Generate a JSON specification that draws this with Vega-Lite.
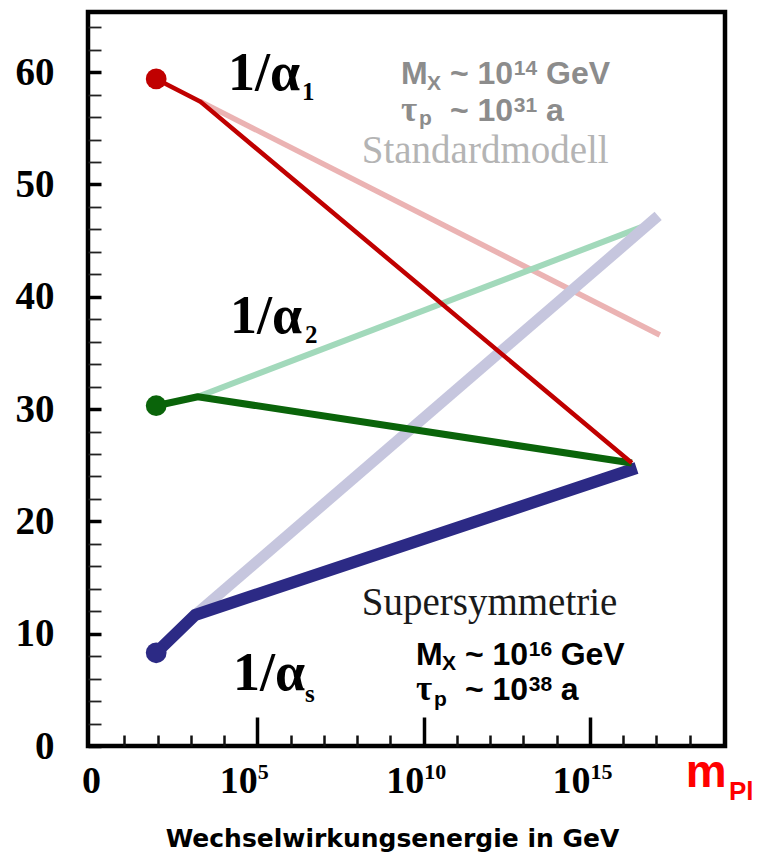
{
  "$schema": "https://vega.github.io/schema/vega-lite/v6.json",
  "width": 637,
  "height": 734,
  "autosize": {"type": "none"},
  "padding": {"left": 88, "top": 12, "right": 32, "bottom": 114},
  "background": "white",
  "config": {
    "view": {"stroke": "#000000", "strokeWidth": 4.5},
    "axis": {"domain": false, "grid": false}
  },
  "datasets": {
    "curves": [
      {"curve": "α1 SM", "e": 3.28, "v": 57.4},
      {"curve": "α1 SM", "e": 17.1, "v": 36.6},
      {"curve": "α2 SM", "e": 3.21, "v": 31.1},
      {"curve": "α2 SM", "e": 16.55, "v": 46.2},
      {"curve": "αs SM", "e": 3.13, "v": 11.67},
      {"curve": "αs SM", "e": 17.05, "v": 47.2},
      {"curve": "αs SUSY", "e": 1.96, "v": 8.3},
      {"curve": "αs SUSY", "e": 3.13, "v": 11.67},
      {"curve": "αs SUSY", "e": 16.4, "v": 24.75},
      {"curve": "α2 SUSY", "e": 1.96, "v": 30.3},
      {"curve": "α2 SUSY", "e": 3.21, "v": 31.1},
      {"curve": "α2 SUSY", "e": 16.26, "v": 25.2},
      {"curve": "α1 SUSY", "e": 1.96, "v": 59.4},
      {"curve": "α1 SUSY", "e": 3.28, "v": 57.4},
      {"curve": "α1 SUSY", "e": 16.26, "v": 25.2}
    ],
    "dots": [
      {"coupling": "α1", "e": 1.96, "v": 59.4},
      {"coupling": "α2", "e": 1.96, "v": 30.3},
      {"coupling": "αs", "e": 1.96, "v": 8.3}
    ],
    "coupling_labels": [
      {"text": "1/α", "part": "main", "e": 4.12, "v": 58.41},
      {"text": "1", "part": "sub", "e": 6.34, "v": 57.53},
      {"text": "1/α", "part": "main", "e": 4.18, "v": 36.78},
      {"text": "2", "part": "sub", "e": 6.43, "v": 35.89},
      {"text": "1/α", "part": "main", "e": 4.27, "v": 4.99},
      {"text": "s", "part": "sub", "e": 6.43, "v": 3.92}
    ],
    "notes": [
      {"model": "SM", "part": "main", "text": "M", "e": 9.32, "v": 58.95},
      {"model": "SM", "part": "sub", "text": "X", "e": 10.1, "v": 58.41},
      {"model": "SM", "part": "main", "text": "~ 10", "e": 10.79, "v": 58.95},
      {"model": "SM", "part": "sup", "text": "14", "e": 12.71, "v": 59.77},
      {"model": "SM", "part": "main", "text": "GeV", "e": 13.68, "v": 58.95},
      {"model": "SM", "part": "greek", "text": "τ", "e": 9.32, "v": 55.65},
      {"model": "SM", "part": "sub", "text": "p", "e": 9.86, "v": 55.3},
      {"model": "SM", "part": "main", "text": "~ 10", "e": 10.79, "v": 55.65},
      {"model": "SM", "part": "sup", "text": "31", "e": 12.71, "v": 56.46},
      {"model": "SM", "part": "main", "text": "a", "e": 13.68, "v": 55.65},
      {"model": "SUSY", "part": "main", "text": "M", "e": 9.77, "v": 7.21},
      {"model": "SUSY", "part": "sub", "text": "X", "e": 10.55, "v": 6.76},
      {"model": "SUSY", "part": "main", "text": "~ 10", "e": 11.24, "v": 7.21},
      {"model": "SUSY", "part": "sup", "text": "16", "e": 13.16, "v": 8.01},
      {"model": "SUSY", "part": "main", "text": "GeV", "e": 14.12, "v": 7.21},
      {"model": "SUSY", "part": "greek", "text": "τ", "e": 9.77, "v": 4.1},
      {"model": "SUSY", "part": "sub", "text": "p", "e": 10.31, "v": 3.56},
      {"model": "SUSY", "part": "main", "text": "~ 10", "e": 11.24, "v": 4.1},
      {"model": "SUSY", "part": "sup", "text": "38", "e": 13.16, "v": 4.9},
      {"model": "SUSY", "part": "main", "text": "a", "e": 14.12, "v": 4.1}
    ],
    "model_names": [
      {"model": "SM", "text": "Standardmodell", "e": 8.14, "v": 51.95},
      {"model": "SUSY", "text": "Supersymmetrie", "e": 8.14, "v": 11.67}
    ],
    "planck": [
      {"part": "main", "text": "m", "e": 17.88, "v": -3.65},
      {"part": "sub", "text": "Pl", "e": 19.18, "v": -4.81}
    ]
  },
  "encoding": {
    "x": {"field": "e", "type": "quantitative", "scale": {"domain": [-0.09, 19.06], "nice": false, "zero": false}, "axis": null},
    "y": {"field": "v", "type": "quantitative", "scale": {"domain": [0, 65.36], "nice": false, "zero": false}, "axis": null}
  },
  "resolve": {"axis": {"x": "independent", "y": "independent"}},
  "layer": [
    {
      "data": {"name": "curves"},
      "transform": [{"filter": "datum.curve == 'α1 SM'"}],
      "mark": {"type": "line", "color": "#ebb3b3", "strokeWidth": 5.5},
      "encoding": {
        "x": {"field": "e", "type": "quantitative", "scale": {"domain": [-0.09, 19.06], "nice": false, "zero": false},
          "axis": {"orient": "bottom", "values": [0], "labelExpr": "'0'",
            "ticks": false, "domain": false, "labelFont": "Liberation Serif", "labelFontWeight": "bold", "labelFontSize": 38,
            "labelColor": "#000000", "labelBaseline": "alphabetic", "labelAlign": "center", "labelDx": -2, "labelPadding": 46, "labelFlush": false, "labelOverlap": false,
            "title": "Wechselwirkungsenergie in GeV", "titleFont": "DejaVu Sans", "titleFontWeight": "bold", "titleFontSize": 25,
            "titleColor": "#000000", "titleX": 304, "titleY": 100, "titleAlign": "center", "titleBaseline": "alphabetic"}},
        "y": {"field": "v", "type": "quantitative", "scale": {"domain": [0, 65.36], "nice": false, "zero": false},
          "axis": {"orient": "left", "values": [0, 10, 20, 30, 40, 50, 60], "ticks": false, "domain": false,
            "labelFont": "Liberation Serif", "labelFontWeight": "bold", "labelFontSize": 39, "labelColor": "#000000",
            "labelPadding": 34, "labelFlush": false, "labelOverlap": false, "title": null}}
      }
    },
    {
      "data": {"name": "curves"},
      "transform": [{"filter": "datum.curve == 'α2 SM'"}],
      "mark": {"type": "line", "color": "#a2d9bb", "strokeWidth": 6},
      "encoding": {
        "x": {"field": "e", "type": "quantitative", "scale": {"domain": [-0.09, 19.06], "nice": false, "zero": false},
          "axis": {"orient": "bottom", "values": [5, 10, 15], "labels": false, "domain": false, "ticks": true,
            "tickSize": -29, "tickWidth": 3.5, "tickColor": "#000000", "title": null}},
        "y": {"field": "v", "type": "quantitative", "scale": {"domain": [0, 65.36], "nice": false, "zero": false},
          "axis": {"orient": "left", "values": [0, 10, 20, 30, 40, 50, 60], "labels": false, "domain": false, "ticks": true,
            "tickSize": -13, "tickWidth": 3.5, "tickColor": "#000000", "title": null}}
      }
    },
    {
      "data": {"name": "curves"},
      "transform": [{"filter": "datum.curve == 'αs SM'"}],
      "mark": {"type": "line", "color": "#c6c6de", "strokeWidth": 11},
      "encoding": {
        "x": {"field": "e", "type": "quantitative", "scale": {"domain": [-0.09, 19.06], "nice": false, "zero": false},
          "axis": {"orient": "bottom", "values": [1, 2, 3, 4, 6, 7, 8, 9, 11, 12, 13, 14, 16, 17, 18], "labels": false, "domain": false, "ticks": true,
            "tickSize": -11, "tickWidth": 2.5, "tickColor": "#111111", "title": null}},
        "y": {"field": "v", "type": "quantitative", "scale": {"domain": [0, 65.36], "nice": false, "zero": false},
          "axis": {"orient": "left", "values": [2, 4, 6, 8, 12, 14, 16, 18, 22, 24, 26, 28, 32, 34, 36, 38, 42, 44, 46, 48, 52, 54, 56, 58, 62, 64],
            "labels": false, "domain": false, "ticks": true, "tickSize": -13, "tickWidth": 1.8, "tickColor": "#222222", "title": null}}
      }
    },
    {
      "data": {"name": "curves"},
      "transform": [{"filter": "datum.curve == 'αs SUSY'"}],
      "mark": {"type": "line", "color": "#2c2a85", "strokeWidth": 12, "strokeJoin": "round"},
      "encoding": {
        "x": {"field": "e", "type": "quantitative", "scale": {"domain": [-0.09, 19.06], "nice": false, "zero": false},
          "axis": {"orient": "bottom", "values": [5, 10, 15], "labelExpr": "'10'",
            "ticks": false, "domain": false, "labelFont": "Liberation Serif", "labelFontWeight": "bold", "labelFontSize": 38,
            "labelColor": "#000000", "labelBaseline": "alphabetic", "labelAlign": "right", "labelDx": 10, "labelPadding": 46,
            "labelFlush": false, "labelOverlap": false, "title": null}}
      }
    },
    {
      "data": {"name": "curves"},
      "transform": [{"filter": "datum.curve == 'α2 SUSY'"}],
      "mark": {"type": "line", "color": "#0a640a", "strokeWidth": 7, "strokeJoin": "round"},
      "encoding": {
        "x": {"field": "e", "type": "quantitative", "scale": {"domain": [-0.09, 19.06], "nice": false, "zero": false},
          "axis": {"orient": "bottom", "values": [5, 10, 15], "labelExpr": "datum.value + ''",
            "ticks": false, "domain": false, "labelFont": "Liberation Serif", "labelFontWeight": "bold", "labelFontSize": 22,
            "labelColor": "#000000", "labelBaseline": "alphabetic", "labelAlign": "left", "labelDx": 11, "labelPadding": 32,
            "labelFlush": false, "labelOverlap": false, "title": null}}
      }
    },
    {
      "data": {"name": "curves"},
      "transform": [{"filter": "datum.curve == 'α1 SUSY'"}],
      "mark": {"type": "line", "color": "#c00000", "strokeWidth": 4.5, "strokeJoin": "round"}
    },
    {
      "data": {"name": "dots"},
      "mark": {"type": "point", "filled": true, "size": 430, "opacity": 1},
      "encoding": {
        "color": {"field": "coupling", "type": "nominal", "scale": {"domain": ["α1", "α2", "αs"], "range": ["#c00000", "#0a640a", "#2c2a85"]}, "legend": null}
      }
    },
    {
      "data": {"name": "coupling_labels"},
      "transform": [{"filter": "datum.part == 'main'"}],
      "mark": {"type": "text", "font": "Liberation Serif", "fontWeight": "bold", "fontSize": 54, "align": "left", "baseline": "alphabetic", "color": "#000000"},
      "encoding": {"text": {"field": "text"}}
    },
    {
      "data": {"name": "coupling_labels"},
      "transform": [{"filter": "datum.part == 'sub'"}],
      "mark": {"type": "text", "font": "Liberation Serif", "fontWeight": "bold", "fontSize": 25, "align": "left", "baseline": "alphabetic", "color": "#000000"},
      "encoding": {"text": {"field": "text"}}
    },
    {
      "data": {"name": "notes"},
      "transform": [{"filter": "datum.part == 'main'"}],
      "mark": {"type": "text", "font": "Liberation Sans", "fontWeight": "bold", "fontSize": 32, "align": "left", "baseline": "alphabetic"},
      "encoding": {
        "text": {"field": "text"},
        "color": {"condition": {"test": "datum.model == 'SM'", "value": "#8c8c8c"}, "value": "#000000"}
      }
    },
    {
      "data": {"name": "notes"},
      "transform": [{"filter": "datum.part == 'sub' || datum.part == 'sup'"}],
      "mark": {"type": "text", "font": "Liberation Sans", "fontWeight": "bold", "fontSize": 21, "align": "left", "baseline": "alphabetic"},
      "encoding": {
        "text": {"field": "text"},
        "color": {"condition": {"test": "datum.model == 'SM'", "value": "#8c8c8c"}, "value": "#000000"}
      }
    },
    {
      "data": {"name": "notes"},
      "transform": [{"filter": "datum.part == 'greek'"}],
      "mark": {"type": "text", "font": "Liberation Serif", "fontWeight": "bold", "fontSize": 35, "align": "left", "baseline": "alphabetic"},
      "encoding": {
        "text": {"field": "text"},
        "color": {"condition": {"test": "datum.model == 'SM'", "value": "#8c8c8c"}, "value": "#000000"}
      }
    },
    {
      "data": {"name": "model_names"},
      "mark": {"type": "text", "font": "Liberation Serif", "fontSize": 39, "align": "left", "baseline": "alphabetic"},
      "encoding": {
        "text": {"field": "text"},
        "color": {"condition": {"test": "datum.model == 'SM'", "value": "#b4b4b4"}, "value": "#1a1a1a"}
      }
    },
    {
      "data": {"name": "planck"},
      "transform": [{"filter": "datum.part == 'main'"}],
      "mark": {"type": "text", "font": "Liberation Sans", "fontWeight": "bold", "fontSize": 46, "align": "left", "baseline": "alphabetic", "color": "#ff0000"},
      "encoding": {"text": {"field": "text"}}
    },
    {
      "data": {"name": "planck"},
      "transform": [{"filter": "datum.part == 'sub'"}],
      "mark": {"type": "text", "font": "Liberation Sans", "fontWeight": "bold", "fontSize": 26, "align": "left", "baseline": "alphabetic", "color": "#ff0000"},
      "encoding": {"text": {"field": "text"}}
    }
  ]
}
